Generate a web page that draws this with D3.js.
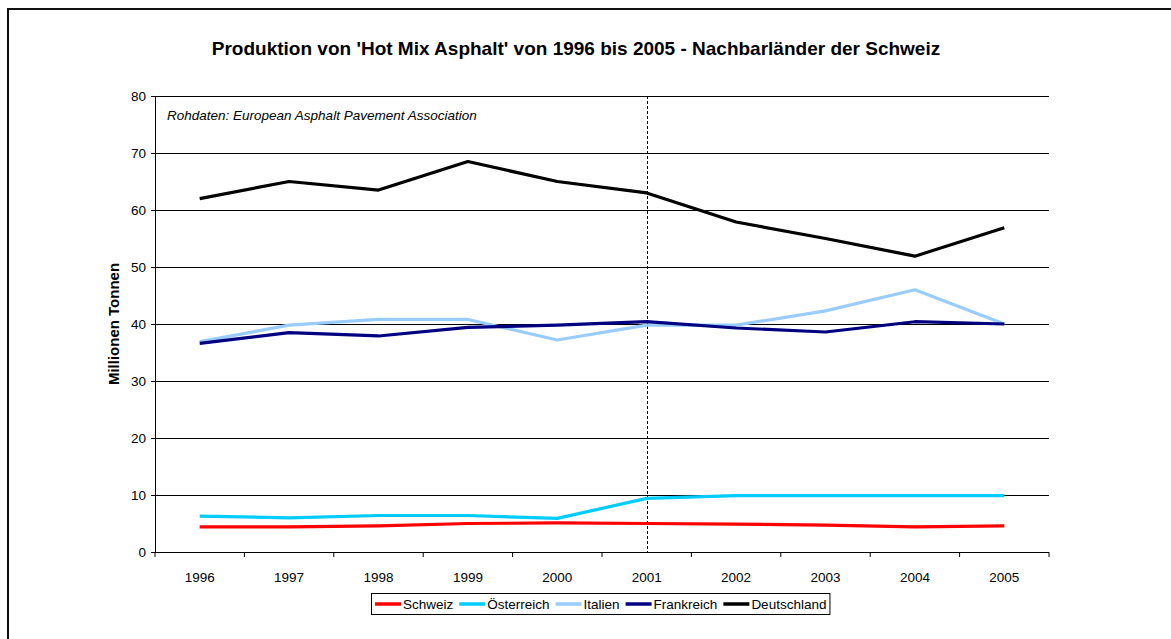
<!DOCTYPE html>
<html>
<head>
<meta charset="utf-8">
<script src="https://cdn.jsdelivr.net/npm/d3@7"></script>
<style>
  body { margin: 0; background: #fff; }
  svg { font-family: Arial, "Liberation Sans", sans-serif; }
</style>
</head>
<body>
<svg id="drawing_region"></svg>
<script>
// Daten (Millionen Tonnen)
const years = ['1996', '1997', '1998', '1999', '2000', '2001', '2002', '2003', '2004', '2005'];
const schweiz = [4.4, 4.4, 4.6, 5.0, 5.1, 5.0, 4.9, 4.7, 4.4, 4.6];
const oesterreich = [6.3, 6.0, 6.4, 6.4, 5.9, 9.4, 9.9, 9.9, 9.9, 9.9];
const italien = [36.9, 39.8, 40.8, 40.8, 37.2, 39.8, 39.8, 42.3, 46.0, 40.0];
const frankreich = [36.6, 38.5, 37.9, 39.4, 39.8, 40.4, 39.3, 38.6, 40.4, 40.0];
const deutschland = [62.0, 65.0, 63.5, 68.5, 65.0, 63.0, 57.9, 55.0, 51.9, 56.9];
const yTicks = [0, 10, 20, 30, 40, 50, 60, 70, 80];
const markerYear = '2001';

const series = [
    {name: 'Schweiz', values: schweiz, color: '#ff0000'},
    {name: 'Österreich', values: oesterreich, color: '#00ccff'},
    {name: 'Italien', values: italien, color: '#99ccff'},
    {name: 'Frankreich', values: frankreich, color: '#000080'},
    {name: 'Deutschland', values: deutschland, color: '#000000'}
];

const width = 1171, height = 639;
const margin = {top: 96, right: 122, bottom: 87, left: 155};
const innerW = width - margin.left - margin.right;
const innerH = height - margin.top - margin.bottom;

const svg = d3.select('#drawing_region')
    .attr('width', width)
    .attr('height', height);

// äusserer Rahmen (rechts/unten abgeschnitten)
svg.append('rect')
    .attr('x', 8).attr('y', 9)
    .attr('width', width + 20).attr('height', height + 20)
    .attr('fill', 'none').attr('stroke', '#111').attr('stroke-width', 2);

svg.append('text')
    .attr('x', 576).attr('y', 55)
    .attr('text-anchor', 'middle')
    .attr('font-size', 19).attr('font-weight', 'bold')
    .text("Produktion von 'Hot Mix Asphalt' von 1996 bis 2005 - Nachbarländer der Schweiz");

const chart = svg.append('g')
    .attr('transform', `translate(${margin.left}, ${margin.top})`);

const xscale = d3.scaleBand().domain(years).range([0, innerW]);
const yscale = d3.scaleLinear().domain([0, 80]).range([innerH, 0]);
const xc = d => xscale(d) + xscale.bandwidth() / 2;

// Gitterlinien
chart.append('g')
    .selectAll('line')
    .data(yTicks.filter(t => t > 0))
    .join('line')
    .attr('x1', 0).attr('x2', innerW)
    .attr('y1', d => Math.round(yscale(d)) + 0.5)
    .attr('y2', d => Math.round(yscale(d)) + 0.5)
    .attr('stroke', '#000').attr('stroke-width', 1);

// Achsen
const yaxis = d3.axisLeft(yscale).tickValues(yTicks).tickSize(4).tickPadding(5).tickSizeOuter(0);
const yg = chart.append('g').call(yaxis);
yg.select('.domain').attr('stroke', '#000');
yg.selectAll('text').attr('font-size', 13.5).attr('font-family', 'Arial, "Liberation Sans", sans-serif').attr('fill', '#000');

const xg = chart.append('g').attr('transform', `translate(0, ${innerH})`);
xg.append('line').attr('x1', 0).attr('x2', innerW).attr('y1', 0.5).attr('y2', 0.5).attr('stroke', '#000');
xg.selectAll('.tk')
    .data(d3.range(years.length + 1))
    .join('line')
    .attr('class', 'tk')
    .attr('x1', i => i * xscale.step()).attr('x2', i => i * xscale.step())
    .attr('y1', 0).attr('y2', 5)
    .attr('stroke', '#000');
xg.selectAll('text')
    .data(years)
    .join('text')
    .attr('x', d => xc(d)).attr('y', 30)
    .attr('text-anchor', 'middle')
    .attr('font-size', 13.5)
    .text(d => d);

// Achsentitel
svg.append('text')
    .attr('transform', `translate(119, ${margin.top + innerH / 2}) rotate(-90)`)
    .attr('text-anchor', 'middle')
    .attr('font-size', 15).attr('font-weight', 'bold')
    .text('Millionen Tonnen');

chart.append('text')
    .attr('x', 12).attr('y', 24)
    .attr('font-size', 13.5).attr('font-style', 'italic')
    .text('Rohdaten: European Asphalt Pavement Association');

// gestrichelte Linie bei 2001
chart.append('line')
    .attr('x1', Math.round(xc(markerYear)) + 0.5).attr('x2', Math.round(xc(markerYear)) + 0.5)
    .attr('y1', 0).attr('y2', innerH)
    .attr('stroke', '#000').attr('stroke-width', 1)
    .attr('stroke-dasharray', '3,2');

// Linien
const line = d3.line()
    .x((d, i) => xc(years[i]))
    .y(d => yscale(d));

chart.append('g')
    .selectAll('path')
    .data(series)
    .join('path')
    .attr('d', d => line(d.values))
    .attr('fill', 'none')
    .attr('stroke', d => d.color)
    .attr('stroke-width', 3.2)
    .attr('stroke-linejoin', 'round');

// Legende
const legend = svg.append('g').attr('transform', 'translate(371, 593)');
const box = legend.append('rect')
    .attr('x', 0.5).attr('y', 0.5).attr('height', 21)
    .attr('fill', '#fff').attr('stroke', '#000');
let lx = 4;
series.forEach(s => {
    legend.append('line')
        .attr('x1', lx).attr('x2', lx + 26)
        .attr('y1', 11).attr('y2', 11)
        .attr('stroke', s.color).attr('stroke-width', 3.5);
    const t = legend.append('text')
        .attr('x', lx + 28).attr('y', 16)
        .attr('font-size', 13.5)
        .text(s.name);
    lx += 28 + t.node().getComputedTextLength() + 6;
});
box.attr('width', lx - 3);
</script>
</body>
</html>
